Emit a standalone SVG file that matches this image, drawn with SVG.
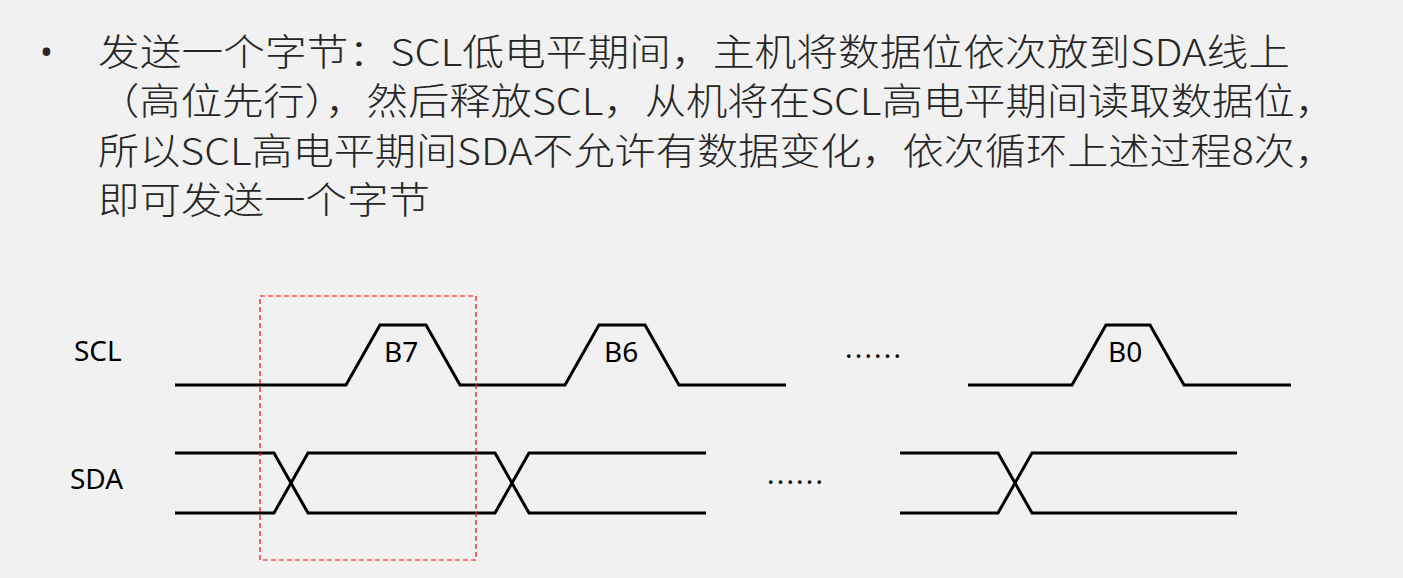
<svg xmlns="http://www.w3.org/2000/svg" width="1403" height="578" viewBox="0 0 1403 578">
<style>
.t{font-family:"Noto Sans CJK SC","Noto Sans",sans-serif;font-size:37px;font-weight:300;fill:#262626}
.l{font-family:"Noto Sans","Noto Sans CJK SC",sans-serif;font-size:28px;fill:#000}
.w{fill:none;stroke:#000;stroke-width:3}
</style>
<rect width="1403" height="578" fill="#f1f1f1"/>
<g id="text">
<text x="40" y="64" font-family="Noto Sans, sans-serif" font-size="34" fill="#262626">•</text>
<text class="t" x="98" y="66" textLength="1192" lengthAdjust="spacingAndGlyphs">发送一个字节：SCL低电平期间，主机将数据位依次放到SDA线上</text>
<text class="t" x="98" y="115" textLength="1238" lengthAdjust="spacingAndGlyphs">（高位先行），然后释放SCL，从机将在SCL高电平期间读取数据位，</text>
<text class="t" x="98" y="165" textLength="1238" lengthAdjust="spacingAndGlyphs">所以SCL高电平期间SDA不允许有数据变化，依次循环上述过程8次，</text>
<text class="t" x="98" y="214" textLength="332" lengthAdjust="spacingAndGlyphs">即可发送一个字节</text>
</g>
<g id="labels">
<text class="l" x="74" y="361">SCL</text>
<text class="l" x="70" y="489">SDA</text>
<text class="l" x="384" y="362">B7</text>
<text class="l" x="604" y="362">B6</text>
<text class="l" x="1108" y="362">B0</text>
<text class="l" x="845" y="358" textLength="56">......</text>
<text class="l" x="767" y="484" textLength="56">......</text>
</g>
<g id="connectors">
<polyline class="w" points="175,385 346,385 380,325 426,325 460,385 565,385 599,325 645,325 679,385 786,385"/>
<polyline class="w" points="968,385 1072,385 1106,325 1150,325 1184,385 1291,385"/>
<polyline class="w" points="175,453 274,453 308,513 495,513 529,453 706,453"/>
<polyline class="w" points="175,513 274,513 308,453 495,453 529,513 706,513"/>
<polyline class="w" points="900,453 998,453 1032,513 1237,513"/>
<polyline class="w" points="900,513 998,513 1032,453 1237,453"/>
<rect x="260" y="296" width="216" height="264" fill="none" stroke="#f00" stroke-width="1.2" stroke-dasharray="5,3"/>
</g>
</svg>
